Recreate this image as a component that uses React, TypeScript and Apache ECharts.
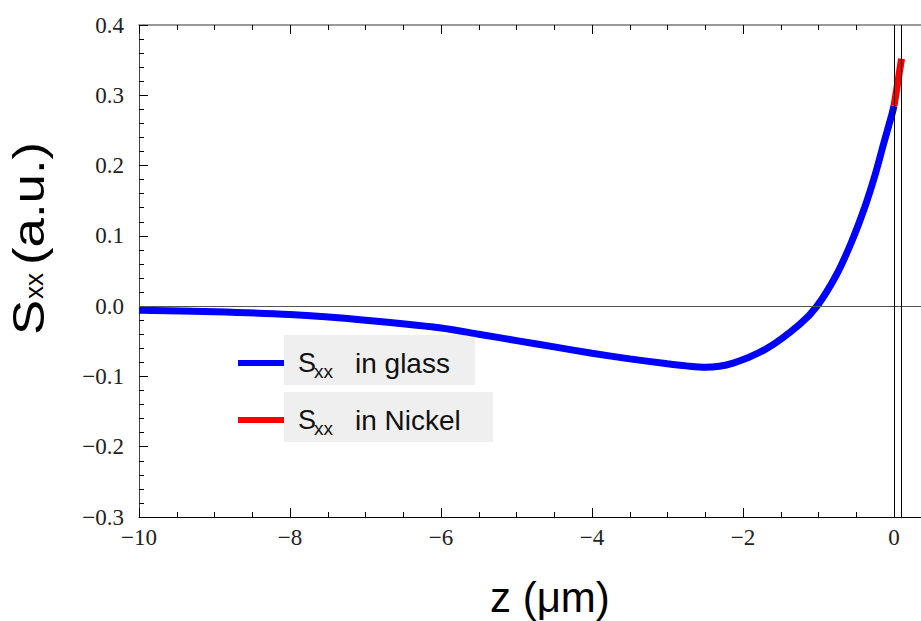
import React, { useEffect, useRef } from "react";
import * as echarts from "echarts";

// Field component S_xx along z (µm)
const zGlass = [-10, -9, -8, -7, -6, -5.5, -5, -4.5, -4, -3.5, -3, -2.75, -2.5, -2.13, -1.68, -1.25, -1.02, -0.76, -0.56, -0.39, -0.25, -0.13, -0.03, 0];
const sGlass = [-0.006, -0.008, -0.012, -0.02, -0.031, -0.04, -0.049, -0.058, -0.067, -0.075, -0.082, -0.085, -0.087, -0.081, -0.06, -0.026, 0, 0.045, 0.092, 0.14, 0.187, 0.234, 0.272, 0.285];
const zNickel = [0, 0.05, 0.1];
const sNickel = [0.285, 0.318, 0.352];
const interfaces = [0, 0.1];
const legendNames = ["in glass", "in Nickel"];
const legendColors = ["#0000ff", "#ff0000"];

const xMin = -10;
const xMax = 2;
const yMin = -0.3;
const yMax = 0.4;

const toMinus = (s: string) => s.replace("-", "\u2212");

export default function App() {
  const ref = useRef<HTMLDivElement>(null);
  useEffect(() => {
    if (!ref.current) return;
    const chart = echarts.init(ref.current, null, { renderer: "svg" });
    const serif = "Liberation Serif";
    const sans = "Liberation Sans";
    const tickStyle = { color: "#000", width: 1 };

    const glassData = zGlass.map((z, i) => [z, sGlass[i]]);
    const nickelData = zNickel.map((z, i) => [z, sNickel[i]]);

    const legendGraphics: any[] = [];
    legendNames.forEach((name, i) => {
      const dy = i * 57;
      legendGraphics.push(
        { type: "rect", shape: { x: 284, y: 335 + dy, width: i === 0 ? 191 : 209, height: 50 }, style: { fill: "#efefef" }, silent: true },
        { type: "line", shape: { x1: 238, y1: 363 + dy, x2: 284, y2: 363 + dy }, style: { stroke: legendColors[i], lineWidth: 6 }, silent: true },
        { type: "text", x: 298, y: 363 + dy, style: { text: "S", font: `27px '${sans}'`, fill: "#111", verticalAlign: "middle", align: "left" }, silent: true },
        { type: "text", x: 314, y: 371 + dy, style: { text: "xx", font: `19px '${sans}'`, fill: "#111", verticalAlign: "middle", align: "left" }, silent: true },
        { type: "text", x: 355, y: 363 + dy, style: { text: name, font: `28px '${sans}'`, fill: "#111", verticalAlign: "middle", align: "left" }, silent: true }
      );
    });

    chart.setOption({
      animation: false,
      grid: { left: 139, top: 25, width: 906, height: 492 },
      xAxis: [
        {
          type: "value",
          min: xMin,
          max: xMax,
          interval: 2,
          position: "bottom",
          axisLine: { show: true, onZero: false, lineStyle: { color: "#000", width: 1 } },
          axisTick: { show: true, inside: true, length: 9, lineStyle: tickStyle },
          minorTick: { show: true, splitNumber: 4, length: 5, lineStyle: tickStyle },
          splitLine: { show: false },
          axisLabel: {
            margin: 9,
            fontFamily: serif,
            fontSize: 23,
            color: "#222",
            formatter: (v: number) => (v > 0 ? "" : toMinus(String(v))),
          },
        },
        {
          type: "value",
          min: xMin,
          max: xMax,
          interval: 2,
          position: "top",
          axisLine: { show: true, onZero: false, lineStyle: { color: "#777", width: 1.5 } },
          axisTick: { show: true, inside: true, length: 9, lineStyle: tickStyle },
          minorTick: { show: true, splitNumber: 4, length: 5, lineStyle: tickStyle },
          splitLine: { show: false },
          axisLabel: { show: false },
        },
      ],
      yAxis: {
        type: "value",
        min: yMin,
        max: yMax,
        interval: 0.1,
        axisLine: { show: true, onZero: false, lineStyle: { color: "#444", width: 1 } },
        axisTick: { show: true, inside: true, length: 9, lineStyle: tickStyle },
        minorTick: { show: true, splitNumber: 5, length: 5, lineStyle: tickStyle },
        splitLine: { show: false },
        axisLabel: {
          margin: 15,
          fontFamily: serif,
          fontSize: 23,
          color: "#222",
          formatter: (v: number) => toMinus(v.toFixed(1)),
        },
      },
      series: [
        {
          type: "line",
          name: "glass",
          data: glassData,
          showSymbol: false,
          smooth: 0.3,
          lineStyle: { color: "#0000ff", width: 7 },
          z: 3,
          markLine: {
            silent: true,
            symbol: "none",
            label: { show: false },
            data: [
              { yAxis: 0, lineStyle: { color: "#555", width: 1, type: "solid" } },
              ...interfaces.map((v) => ({ xAxis: v, lineStyle: { color: "#000", width: 1, type: "solid" } })),
            ],
          },
        },
        {
          type: "line",
          name: "nickel",
          data: nickelData,
          showSymbol: false,
          lineStyle: { color: "#ff0000", width: 7 },
          z: 4,
        },
      ],
      graphic: [
        ...legendGraphics,
        {
          type: "group",
          x: 45,
          y: 335,
          rotation: Math.PI / 2,
          silent: true,
          children: [
            { type: "text", x: 0, y: -16, scaleX: 1.2, style: { text: "S", font: `44px '${sans}'`, fill: "#000", verticalAlign: "middle", align: "left" } },
            { type: "text", x: 36, y: -11, style: { text: "xx", font: `26px '${sans}'`, fill: "#000", verticalAlign: "middle", align: "left" } },
            { type: "text", x: 70, y: -16, scaleX: 1.2, style: { text: "(a.u.)", font: `44px '${sans}'`, fill: "#000", verticalAlign: "middle", align: "left" } },
          ],
        },
        {
          type: "text",
          x: 490,
          y: 597,
          silent: true,
          style: { text: "z (\u03bcm)", font: `42px '${sans}'`, fill: "#000", verticalAlign: "middle", align: "left" },
        },
      ],
    });
    return () => chart.dispose();
  }, []);

  return (
    <div style={{ position: "fixed", left: 0, top: 0, width: 921, height: 621, overflow: "hidden", background: "#fff" }}>
      <div ref={ref} style={{ width: 1060, height: 621 }} />
    </div>
  );
}
